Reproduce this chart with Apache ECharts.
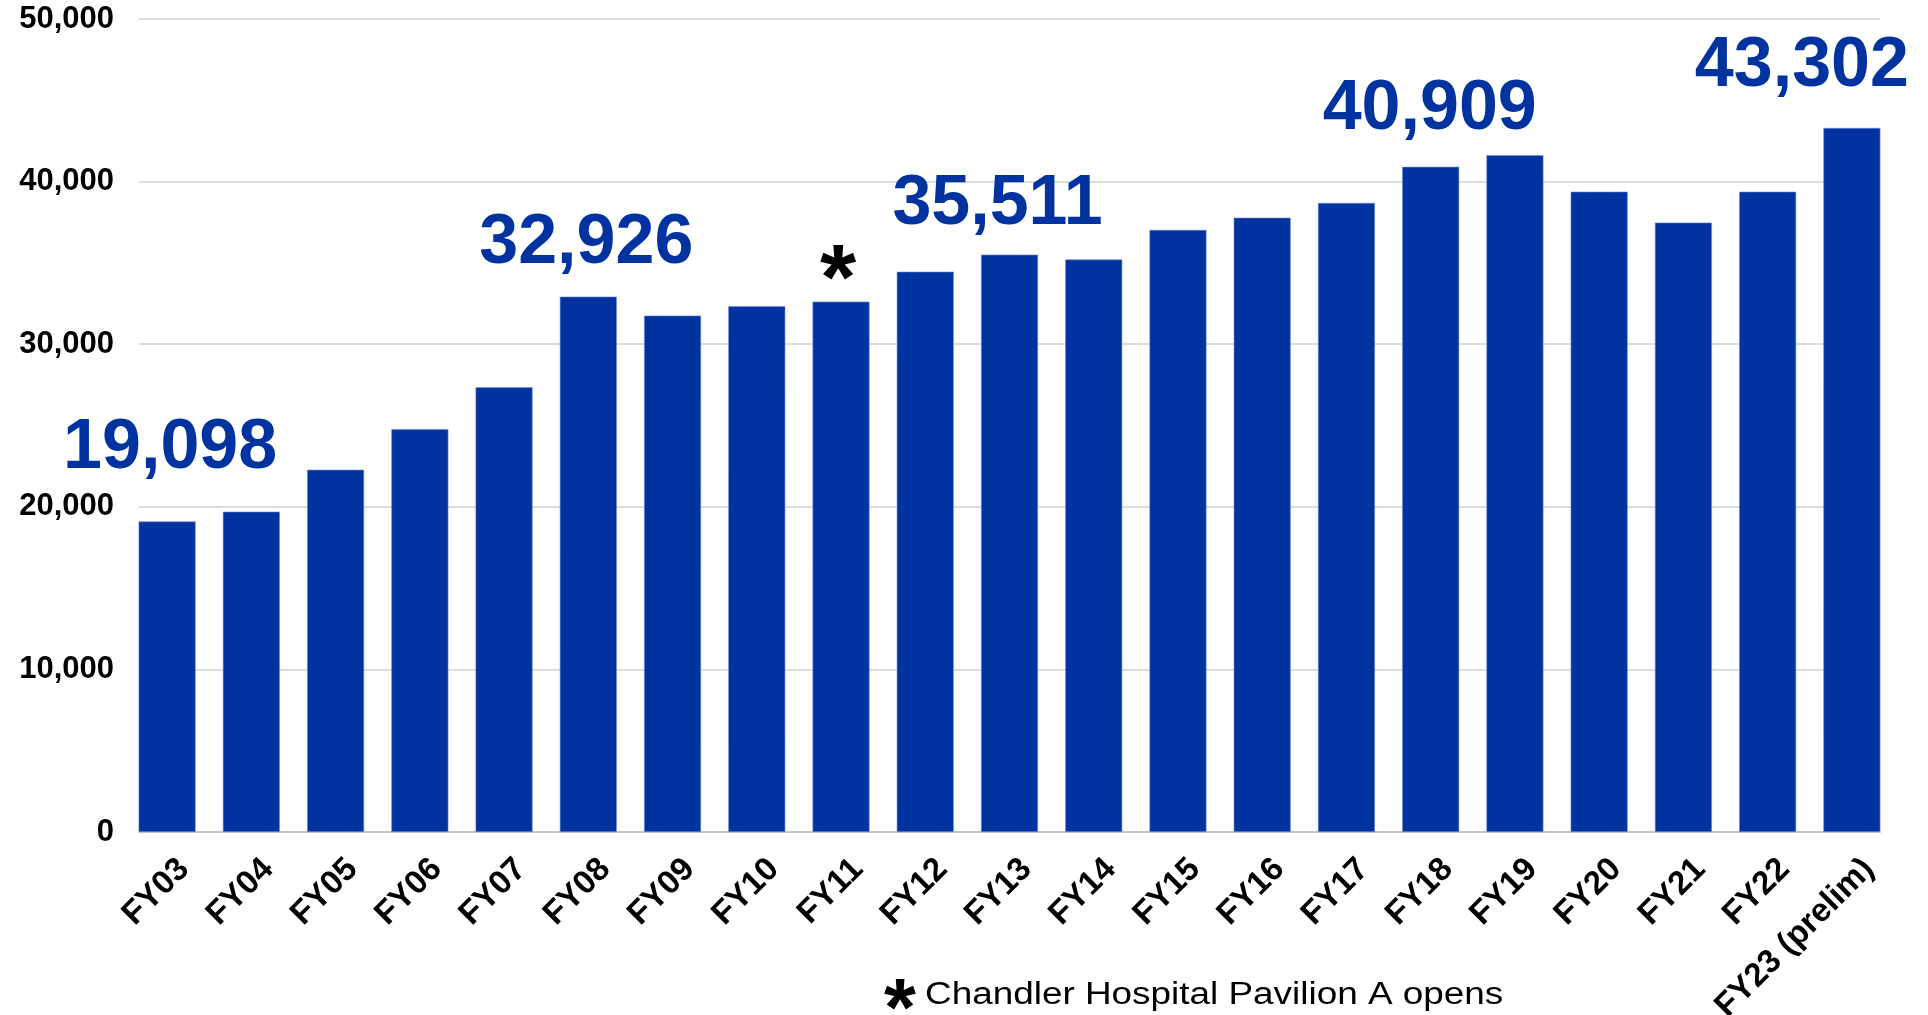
<!DOCTYPE html>
<html>
<head>
<meta charset="utf-8">
<script src="https://cdn.jsdelivr.net/npm/echarts@6/dist/echarts.min.js"></script>
<style>
  html, body { margin: 0; padding: 0; background: #fff; }
  #chart { width: 1928px; height: 1015px; }
</style>
</head>
<body>
<div id="chart"></div>
<script>
// ---- data ----
const categories = ['FY03','FY04','FY05','FY06','FY07','FY08','FY09','FY10','FY11','FY12','FY13',
  'FY14','FY15','FY16','FY17','FY18','FY19','FY20','FY21','FY22','FY23 (prelim)'];
const admissions = [19098, 19700, 22280, 24780, 27350, 32926, 31760, 32340, 32620, 34460, 35511,
  35210, 37030, 37780, 38690, 40909, 41620, 39380, 37480, 39380, 43302];
const highlighted = ['FY03', 'FY08', 'FY13', 'FY18', 'FY23 (prelim)'];
const starredCategory = 'FY11';
const yTicks = [0, 10000, 20000, 30000, 40000, 50000];
const footnote = 'Chandler Hospital Pavilion A opens';

// ---- styling ----
const BLUE = '#0033A0';
const FONT = '"Liberation Sans", Arial, sans-serif';
const labelOffsets = {
  'FY03': [3, -18], 'FY08': [-2, 2], 'FY13': [-12, 5], 'FY18': [-1, -2], 'FY23 (prelim)': [-50, -6]
};
const fmt = v => v.toLocaleString('en-US');

const barData = admissions.map((v, i) => {
  const c = categories[i];
  if (highlighted.includes(c)) {
    return {
      value: v,
      label: {
        show: true, position: 'top', distance: 20, offset: labelOffsets[c],
        formatter: p => fmt(p.value), color: BLUE, fontSize: 70, fontWeight: 'bold', fontFamily: FONT
      }
    };
  }
  if (c === starredCategory) {
    return {
      value: v,
      label: {
        show: true, position: 'top', distance: 0, offset: [-3, 28],
        formatter: '*', color: '#000', fontSize: 93, fontWeight: 'bold', fontFamily: FONT
      }
    };
  }
  return v;
});

const TOP = 19, BOTTOM = 183;
const yMin = yTicks[0], yMax = yTicks[yTicks.length - 1], yStep = yTicks[1] - yTicks[0];

const chart = echarts.init(document.getElementById('chart'), null, { renderer: 'canvas' });
chart.setOption({
  animation: false,
  backgroundColor: '#fff',
  grid: [
    { left: 125, right: 34, top: TOP, bottom: BOTTOM, outerBoundsMode: 'none', containLabel: false },   // bars
    { left: 139, right: 48, top: TOP, bottom: BOTTOM, outerBoundsMode: 'none', containLabel: false },   // gridlines, y labels
    { left: 142, right: 17, top: TOP, bottom: BOTTOM, outerBoundsMode: 'none', containLabel: false }    // category labels
  ],
  xAxis: [
    { gridIndex: 0, type: 'category', data: categories, show: true,
      axisLine: { show: false }, axisTick: { show: false }, axisLabel: { show: false } },
    { gridIndex: 1, type: 'value', min: 0, max: 1, splitLine: { show: false },
      axisLine: { show: true, lineStyle: { color: '#c6c6c6', width: 2 } },
      axisTick: { show: false }, axisLabel: { show: false } },
    { gridIndex: 2, type: 'category', data: categories,
      axisLine: { show: false }, axisTick: { show: false },
      axisLabel: { interval: 0, rotate: 45, margin: 32, color: '#000', fontSize: 33,
        fontWeight: 'bold', fontFamily: FONT } }
  ],
  yAxis: [
    { gridIndex: 0, type: 'value', min: yMin, max: yMax, interval: yStep, show: false },
    { gridIndex: 1, type: 'value', min: yMin, max: yMax, interval: yStep,
      axisLine: { show: false }, axisTick: { show: false },
      axisLabel: { margin: 25, color: '#000', fontSize: 31, fontWeight: 'bold', fontFamily: FONT,
        formatter: v => fmt(v) },
      splitLine: { show: true, lineStyle: { color: '#dcdcdc', width: 2 } } },
    { gridIndex: 2, type: 'value', min: yMin, max: yMax, interval: yStep, show: false }
  ],
  series: [
    { type: 'bar', xAxisIndex: 0, yAxisIndex: 0, data: barData, barWidth: 57,
      itemStyle: { color: BLUE, borderColor: '#6f8fd6', borderWidth: 0.6 } }
  ],
  graphic: [
    { type: 'text', x: 884, y: 1012, style: { text: '*', font: 'bold 82px ' + FONT, fill: '#000',
        align: 'left', verticalAlign: 'middle' } },
    { type: 'text', x: 925, y: 995, scaleX: 1.19, style: { text: footnote, font: '31px ' + FONT,
        fill: '#000', align: 'left', verticalAlign: 'middle' } }
  ]
});
</script>
</body>
</html>
